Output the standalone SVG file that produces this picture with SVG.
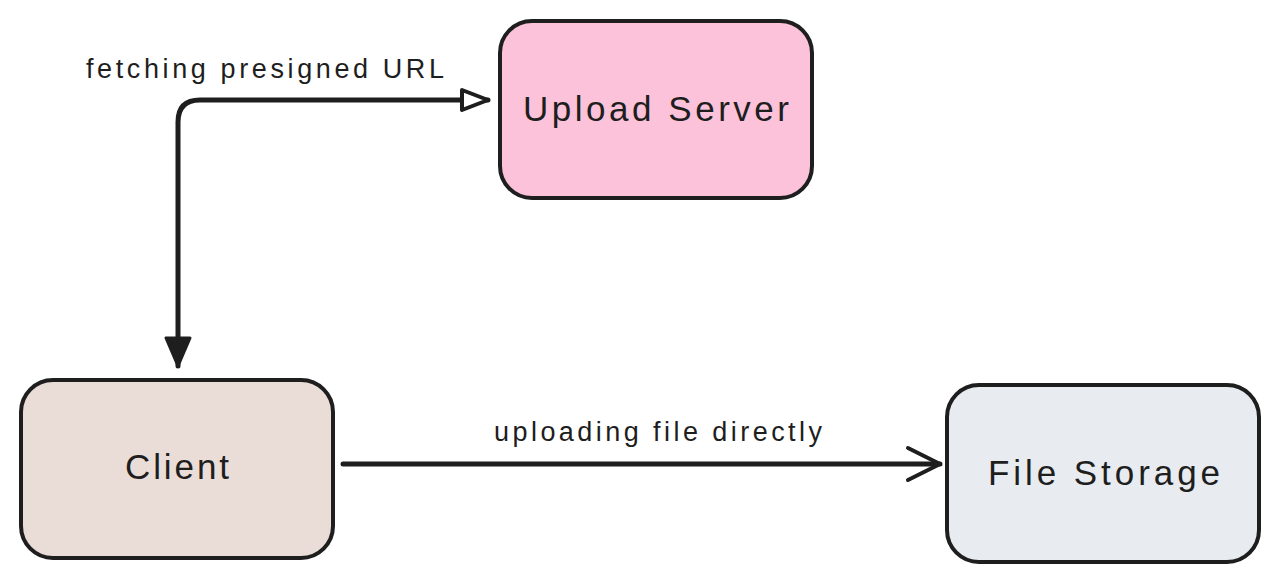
<svg xmlns="http://www.w3.org/2000/svg" width="1280" height="584" viewBox="0 0 1280 584">
<style>
.box{stroke:#1e1e1e;stroke-width:4;}
.lbl{font-family:"Liberation Sans",sans-serif;font-size:35px;fill:#1e1e1e;text-anchor:middle;dominant-baseline:central;}
.elbl{font-family:"Liberation Sans",sans-serif;font-size:27px;fill:#1e1e1e;text-anchor:middle;dominant-baseline:central;}
.edge{fill:none;stroke:#1e1e1e;stroke-width:5;stroke-linecap:round;stroke-linejoin:round;}
</style>
<defs>
<marker id="hollow" markerUnits="userSpaceOnUse" markerWidth="40" markerHeight="30" refX="28" refY="12" orient="auto">
<path d="M2,2 L28,12 L2,22 Z" fill="#fff" stroke="#1e1e1e" stroke-width="4" stroke-linejoin="round"/>
</marker>
<marker id="filled" markerUnits="userSpaceOnUse" markerWidth="40" markerHeight="40" refX="30" refY="14" orient="auto-start-reverse">
<path d="M2,2 L30,14 L2,26 Z" fill="#1e1e1e" stroke="#1e1e1e" stroke-width="3" stroke-linejoin="round"/>
</marker>
<marker id="open" markerUnits="userSpaceOnUse" markerWidth="50" markerHeight="40" refX="40" refY="20" orient="auto">
<path d="M8,4 L40,20 L8,36" fill="none" stroke="#1e1e1e" stroke-width="4" stroke-linecap="round" stroke-linejoin="round"/>
</marker>
</defs>
<rect width="1280" height="584" fill="#ffffff"/>
<g id="upload-server">
<rect class="box" x="500" y="21" width="312" height="177" rx="32" fill="#fbc2d9"/>
<text class="lbl" x="656" y="108" textLength="266" lengthAdjust="spacing">Upload Server</text>
</g>
<g id="client">
<rect class="box" x="21" y="380" width="312" height="178" rx="32" fill="#eaddd7"/>
<text class="lbl" x="177" y="466" textLength="104" lengthAdjust="spacing">Client</text>
</g>
<g id="file-storage">
<rect class="box" x="947" y="385" width="312" height="177" rx="32" fill="#e8ebef"/>
<text class="lbl" x="1104" y="472" textLength="232" lengthAdjust="spacing">File Storage</text>
</g>
<g id="connectors">
<path class="edge" d="M178,366 L178,122 Q178,100 200,100 L488,100" marker-start="url(#filled)" marker-end="url(#hollow)"/>
<text class="elbl" x="265" y="69" textLength="358" lengthAdjust="spacing">fetching presigned URL</text>
<path class="edge" d="M343,464 L940,464" marker-end="url(#open)"/>
<text class="elbl" x="658" y="432" textLength="328" lengthAdjust="spacing">uploading file directly</text>
</g>
</svg>
